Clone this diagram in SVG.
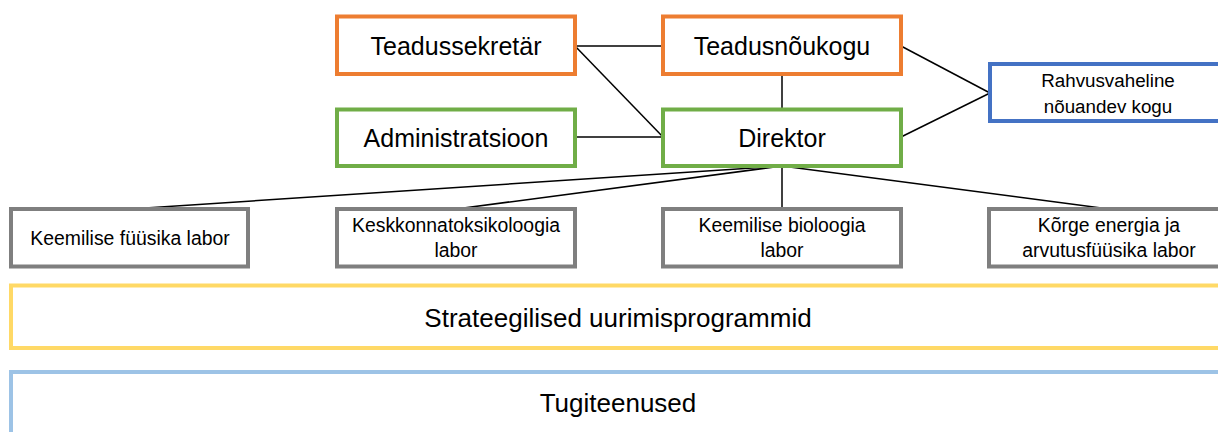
<svg xmlns="http://www.w3.org/2000/svg" width="1218" height="432" viewBox="0 0 1218 432">
<style>
  .box { fill: #ffffff; stroke-width: 4; }
  .orange { stroke: #ED7D31; }
  .green { stroke: #70AD47; }
  .blue { stroke: #4472C4; }
  .gray { stroke: #7F7F7F; }
  .yellow { stroke: #FFD966; }
  .lblue { stroke: #9DC3E6; }
  text { font-family: "Liberation Sans", Arial, sans-serif; fill: #000000; text-anchor: middle; }
  .big { font-size: 25px; }
  .small { font-size: 18.8px; }
  .lab { font-size: 19.4px; }
  .band { font-size: 26px; }
  .conn line { stroke: #000000; stroke-width: 1.5; fill: none; }
</style>
<rect width="1218" height="432" fill="#ffffff"/>
<g id="connectors" class="conn">
  <line x1="575" y1="46" x2="663" y2="46"/>
  <line x1="575" y1="46" x2="663" y2="137"/>
  <line x1="575" y1="137" x2="663" y2="137"/>
  <line x1="782" y1="74" x2="782" y2="109"/>
  <line x1="901" y1="46" x2="990" y2="93"/>
  <line x1="901" y1="137" x2="990" y2="93"/>
  <line x1="782" y1="166" x2="130" y2="209"/>
  <line x1="782" y1="166" x2="456" y2="209"/>
  <line x1="782" y1="166" x2="782" y2="209"/>
  <line x1="782" y1="166" x2="1109" y2="209"/>
</g>
<g id="teadussekretar">
  <rect class="box orange" x="337" y="16.5" width="238" height="57.5"/>
  <text class="big" x="456" y="55">Teadussekretär</text>
</g>
<g id="teadusnoukogu">
  <rect class="box orange" x="663" y="16.5" width="238" height="57.5"/>
  <text class="big" x="782" y="55">Teadusnõukogu</text>
</g>
<g id="administratsioon">
  <rect class="box green" x="337" y="109.5" width="238" height="56.5"/>
  <text class="big" x="456" y="147">Administratsioon</text>
</g>
<g id="direktor">
  <rect class="box green" x="663" y="109.5" width="238" height="56.5"/>
  <text class="big" x="782" y="147">Direktor</text>
</g>
<g id="rahvusvaheline">
  <rect class="box blue" x="990" y="64" width="238" height="57"/>
  <text class="small" x="1108" y="87">Rahvusvaheline</text>
  <text class="small" x="1108" y="113">nõuandev kogu</text>
</g>
<g id="keemilise-fuusika">
  <rect class="box gray" x="11" y="209" width="237" height="57.5"/>
  <text class="lab" x="130" y="245">Keemilise füüsika labor</text>
</g>
<g id="keskkonnatoksikoloogia">
  <rect class="box gray" x="337" y="209" width="238" height="57.5"/>
  <text class="lab" x="456" y="232">Keskkonnatoksikoloogia</text>
  <text class="lab" x="456" y="257">labor</text>
</g>
<g id="keemilise-bioloogia">
  <rect class="box gray" x="663" y="209" width="238" height="57.5"/>
  <text class="lab" x="782" y="232">Keemilise bioloogia</text>
  <text class="lab" x="782" y="257">labor</text>
</g>
<g id="korge-energia">
  <rect class="box gray" x="989" y="209" width="238" height="57.5"/>
  <text class="lab" x="1109" y="232">Kõrge energia ja</text>
  <text class="lab" x="1109" y="257">arvutusfüüsika labor</text>
</g>
<g id="strateegilised">
  <rect class="box yellow" x="11" y="285.5" width="1214" height="62.5"/>
  <text class="band" x="618" y="327">Strateegilised uurimisprogrammid</text>
</g>
<g id="tugiteenused">
  <rect class="box lblue" x="11" y="372" width="1214" height="80"/>
  <text class="band" x="618" y="412">Tugiteenused</text>
</g>
</svg>
